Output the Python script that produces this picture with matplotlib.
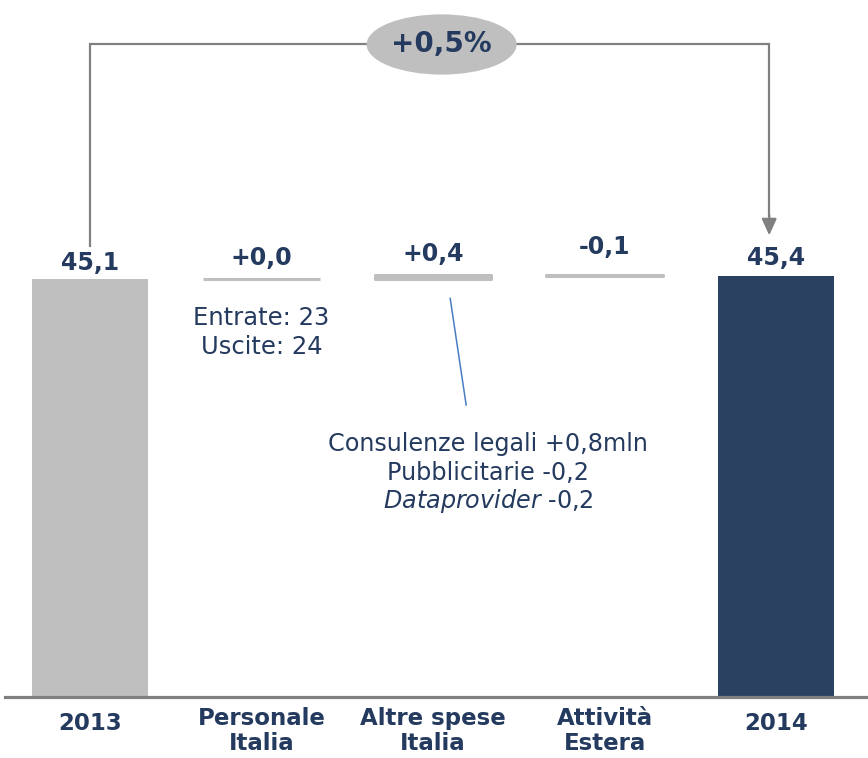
import matplotlib
matplotlib.use("Agg")
import matplotlib.pyplot as plt
from matplotlib.patches import Ellipse
import numpy as np

# data
categories = ["2013", "Personale\nItalia", "Altre spese\nItalia", "Attività\nEstera", "2014"]
start_value = 45.1
deltas = [0.0, 0.4, -0.1]
end_value = 45.4
value_labels = ["45,1", "+0,0", "+0,4", "-0,1", "45,4"]
change_label = "+0,5%"
note_personale = "Entrate: 23\nUscite: 24"
note_altre = ["Consulenze legali +0,8mln", "Pubblicitarie -0,2", r"$\it{Dataprovider}$ -0,2"]

navy = "#243a5e"
grey_bar = "#bfbfbf"
dark_bar = "#2a4161"
line_grey = "#808080"

fig = plt.figure(figsize=(8.68, 7.58), dpi=100)
ax = fig.add_axes([0, 61 / 758, 1, 697 / 758])
ax.set_xlim(-0.525, 4.536)
ax.set_ylim(0, 75.2)
ax.axis("off")

x = np.arange(len(categories))
w = 0.68

# totals
ax.bar(x[0], start_value, width=w, color=grey_bar, zorder=2)
ax.bar(x[-1], end_value, width=w, color=dark_bar, zorder=2)

# steps
cum = start_value
tops = [start_value]
for i, d in enumerate(deltas):
    bottom = min(cum, cum + d)
    ax.bar(x[i + 1], abs(d), bottom=bottom, width=w, color=grey_bar,
           edgecolor=grey_bar, linewidth=2.2, joinstyle="round", zorder=2)
    cum += d
    tops.append(bottom + abs(d))
tops.append(end_value)

# value labels
offsets = [4, 9, 9, 16, 6]
for xi, top, lab, off in zip(x, tops, value_labels, offsets):
    ax.annotate(lab, (xi, top), xytext=(0, off), textcoords="offset pixels",
                ha="center", va="bottom", fontsize=17, fontweight="bold", color=navy)

# baseline
ax.axhline(0, xmin=5 / 868, xmax=1, color=line_grey, lw=2.3, zorder=3, clip_on=False)

# category labels
for xi, lab in zip(x, categories):
    yy = -1.1 if "\n" in lab else -1.6
    ax.text(xi, yy, lab, ha="center", va="top", fontsize=16.5, fontweight="bold",
            color=navy, linespacing=1.12)

# bracket with arrow
ytop = 70.4
xa = x[-1] - 0.04
ax.plot([x[0], x[0], xa, xa], [start_value + 3.6, ytop, ytop, end_value + 6.5],
        color=line_grey, lw=1.6, zorder=1, solid_joinstyle="miter")
ax.annotate("", xy=(xa, end_value + 4.4), xytext=(xa, end_value + 6.6),
            arrowprops=dict(arrowstyle="-|>,head_length=1.0,head_width=0.45",
                            color=line_grey, lw=1.6, shrinkA=0, shrinkB=0))
ax.add_patch(Ellipse((2.05, ytop), 0.875, 6.5, facecolor=grey_bar, edgecolor="none", zorder=3))
ax.text(2.05, ytop, change_label, ha="center", va="center", fontsize=20,
        fontweight="bold", color=navy, zorder=4)

# notes
ax.text(x[1], 42.2, note_personale, ha="center", va="top", fontsize=17.5,
        color=navy, linespacing=1.25)
ax.plot([2.1, 2.193], [43.0, 31.5], color="#4a7cc4", lw=1.1)
note_y = [27.3, 24.2, 21.2]
for line, ny in zip(note_altre, note_y):
    ax.text(2.32, ny, line, ha="center", va="center", fontsize=17.2, color=navy)

fig.savefig("out.png", dpi=100)
